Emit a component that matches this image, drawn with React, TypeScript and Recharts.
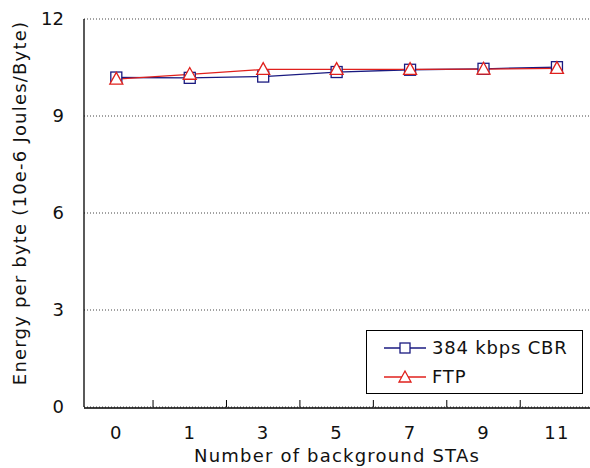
import { LineChart, Line, XAxis, YAxis, CartesianGrid } from "recharts";

const categories = ["0", "1", "3", "5", "7", "9", "11"];
const cbrValues = [10.19, 10.18, 10.22, 10.36, 10.43, 10.46, 10.51];
const ftpValues = [10.14, 10.29, 10.44, 10.44, 10.44, 10.45, 10.47];
const yTicks = [0, 3, 6, 9, 12];
const boundaryTicks = [0.5, 1.5, 2.5, 3.5, 4.5, 5.5];

const data = categories.map((c, i) => ({ idx: i, label: c, cbr: cbrValues[i], ftp: ftpValues[i] }));

const FONT = "'DejaVu Sans', sans-serif";
const NAVY = "#1a1a80";
const RED = "#e0201c";
const textStyle = { fontFamily: FONT, fontSize: 18, fill: "#111", letterSpacing: 1.2 };

function SquareDot(props: any) {
  const { cx, cy } = props;
  if (cx == null || cy == null) return null;
  return <rect x={cx - 5.5} y={cy - 5.5} width={11} height={11} fill="white" stroke={NAVY} strokeWidth={1.3} />;
}

function TriangleDot(props: any) {
  const { cx, cy } = props;
  if (cx == null || cy == null) return null;
  const h = 11;
  return (
    <polygon
      points={`${cx},${cy - h * 0.62} ${cx - 6.5},${cy + h * 0.45} ${cx + 6.5},${cy + h * 0.45}`}
      fill="white"
      stroke={RED}
      strokeWidth={1.3}
    />
  );
}

// tick mark drawn upward from the x axis line, inside the plot
function InnerTick(props: any) {
  const { x, y } = props;
  return <line x1={x} y1={y} x2={x} y2={y - 7} stroke="#000" strokeWidth={1} />;
}

function LegendBox() {
  const row = (color: string, marker: "sq" | "tri", text: string) => (
    <div style={{ display: "flex", alignItems: "center", height: 29 }}>
      <svg width={44} height={16} style={{ marginRight: 5 }}>
        <line x1={1} y1={8} x2={43} y2={8} stroke={color} strokeWidth={1.3} />
        {marker === "sq" ? (
          <rect x={17} y={3} width={10} height={10} fill="white" stroke={color} strokeWidth={1.3} />
        ) : (
          <polygon points="22,2 16,13 28,13" fill="white" stroke={color} strokeWidth={1.3} />
        )}
      </svg>
      <span style={{ fontFamily: FONT, fontSize: 18, color: "#111", letterSpacing: 0.8 }}>{text}</span>
    </div>
  );
  return (
    <div
      style={{
        position: "absolute",
        left: 366,
        top: 330,
        border: "1px solid #000",
        background: "white",
        width: 199,
        padding: "2px 0 2px 16px",
      }}
    >
      {row(NAVY, "sq", "384 kbps CBR")}
      {row(RED, "tri", "FTP")}
    </div>
  );
}

export default function App() {
  return (
    <div style={{ position: "absolute", left: 0, top: 0, width: 590, height: 468, background: "white" }}>
      <LineChart width={590} height={468} data={data} margin={{ top: 19, right: 0, left: 0, bottom: 0 }}>
        <CartesianGrid xAxisId="b" horizontal vertical={false} stroke="#444" strokeDasharray="1 2" />
        <XAxis
          xAxisId="a"
          dataKey="idx"
          type="number"
          domain={[-0.44, 6.45]}
          ticks={boundaryTicks}
          height={1}
          tickSize={0}
          tickMargin={0}
          tickLine={false}
          axisLine={false}
          tick={<InnerTick />}
        />
        <XAxis
          xAxisId="b"
          dataKey="idx"
          type="number"
          domain={[-0.44, 6.45]}
          ticks={[0, 1, 2, 3, 4, 5, 6]}
          tickFormatter={(v: number) => categories[v] ?? ""}
          height={60}
          tickSize={0}
          tickMargin={18}
          tickLine={false}
          axisLine={{ stroke: "#000", strokeWidth: 1.3 }}
          tick={textStyle}
          label={{ value: "Number of background STAs", position: "insideBottom", offset: 6, style: textStyle }}
        />
        <YAxis
          domain={[0, 12]}
          ticks={yTicks}
          width={84}
          tickSize={0}
          tickMargin={20}
          tickLine={false}
          axisLine={{ stroke: "#000", strokeWidth: 1.3 }}
          tick={{ ...textStyle, letterSpacing: 0 }}
          label={{ value: "Energy per byte (10e-6 Joules/Byte)", angle: -90, position: "insideLeft", offset: 20, dy: -10, style: { ...textStyle, textAnchor: "middle" } }}
        />
        <Line xAxisId="b" dataKey="cbr" name="384 kbps CBR" stroke={NAVY} strokeWidth={1.3} dot={<SquareDot />} isAnimationActive={false} />
        <Line xAxisId="b" dataKey="ftp" name="FTP" stroke={RED} strokeWidth={1.3} dot={<TriangleDot />} isAnimationActive={false} />
      </LineChart>
      <LegendBox />
    </div>
  );
}
